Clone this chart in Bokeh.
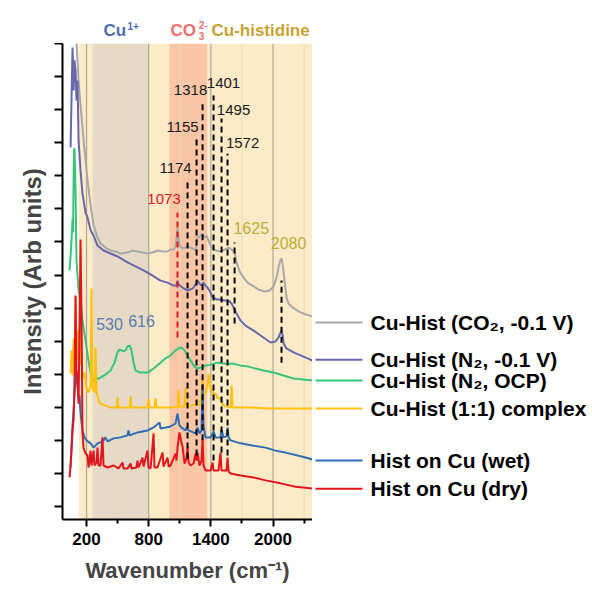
from bokeh.plotting import figure
from bokeh.models import Range1d, FixedTicker, BoxAnnotation
from bokeh.layouts import column, row
from bokeh.core.properties import value
from bokeh.embed import file_html
from bokeh.resources import INLINE

FONT = "Liberation Sans"

# ---------------- data (wavenumber in cm-1, intensity in arb. units) ----------------
gray_x = [103, 123, 142, 161, 181, 210, 239, 268, 306, 335, 383, 432, 480, 528, 596, 644, 692, 741, 789, 837,
          885, 934, 982, 1011, 1040, 1059, 1078, 1097, 1127, 1156, 1185, 1223, 1252, 1271, 1291, 1320, 1339, 1358,
          1378, 1397, 1416, 1455, 1493, 1532, 1571, 1600, 1629, 1648, 1667, 1687, 1725, 1754, 1802, 1860, 1918,
          1967, 2005, 2034, 2053, 2073, 2082, 2092, 2111, 2130, 2150, 2189, 2247, 2314, 2382]
gray_y = [14.1, 12.88, 12.13, 11.46, 10.77, 9.86, 9.10, 8.50, 8.13, 7.95, 7.83, 7.74, 7.71, 7.65, 7.68, 7.74, 7.71,
          7.68, 7.65, 7.68, 7.74, 7.71, 7.71, 7.77, 7.77, 7.86, 8.41, 7.89, 7.80, 7.83, 7.86, 7.80, 7.74, 8.13, 8.16,
          8.26, 8.13, 8.19, 8.04, 7.89, 7.80, 7.74, 7.71, 7.77, 7.83, 7.77, 7.68, 7.38, 7.20, 7.05, 6.89, 6.77, 6.68,
          6.56, 6.50, 6.53, 6.65, 6.92, 7.23, 7.47, 7.50, 7.35, 6.83, 6.32, 6.14, 6.02, 5.90, 5.81, 5.75]

purple_x = [46, 55, 65, 75, 84, 94, 103, 113, 123, 142, 161, 190, 210, 239, 268, 306, 364, 432, 499, 596, 673, 750,
            818, 914, 982, 1040, 1069, 1078, 1088, 1127, 1175, 1223, 1252, 1271, 1291, 1310, 1329, 1349, 1368, 1397,
            1416, 1455, 1493, 1532, 1571, 1600, 1619, 1648, 1687, 1735, 1812, 1880, 1976, 2024, 2053, 2073, 2082,
            2092, 2102, 2130, 2198, 2266, 2333, 2382]
purple_y = [10.86, 12.28, 13.88, 12.58, 13.49, 13.18, 12.28, 12.88, 11.07, 10.16, 9.46, 8.89, 8.74, 8.35, 8.19, 7.89,
            7.74, 7.65, 7.56, 7.38, 7.26, 7.14, 7.02, 6.83, 6.77, 6.68, 6.68, 6.83, 6.71, 6.62, 6.53, 6.59, 6.71, 6.83,
            6.74, 6.68, 6.77, 6.68, 6.62, 6.47, 6.32, 6.26, 6.26, 6.23, 6.23, 6.14, 6.02, 5.84, 5.62, 5.47, 5.32, 5.17,
            4.96, 4.99, 5.11, 5.26, 5.32, 5.20, 4.93, 4.78, 4.66, 4.57, 4.48, 4.41]

green_x = [36, 46, 55, 65, 70, 75, 79, 84, 94, 103, 123, 142, 161, 190, 219, 239, 268, 297, 335, 383, 432, 470, 499,
           519, 538, 557, 576, 596, 615, 634, 654, 673, 721, 789, 847, 914, 963, 1011, 1059, 1088, 1117, 1146, 1175,
           1204, 1242, 1271, 1300, 1349, 1397, 1465, 1542, 1619, 1687, 1764, 1831, 1909, 2005, 2102, 2198, 2295, 2382]
green_y = [7.14, 7.59, 8.04, 8.71, 8.29, 9.86, 10.77, 10.83, 9.56, 7.44, 6.53, 6.23, 5.62, 5.02, 4.41, 4.02, 3.81,
           3.84, 3.90, 3.99, 4.11, 4.35, 4.66, 4.75, 4.72, 4.69, 4.72, 4.84, 4.87, 4.72, 4.35, 4.11, 4.05, 4.05, 4.17,
           4.35, 4.48, 4.57, 4.72, 4.78, 4.81, 4.72, 4.57, 4.41, 4.23, 4.17, 4.20, 4.26, 4.29, 4.35, 4.32, 4.32, 4.26,
           4.23, 4.17, 4.11, 4.05, 3.96, 3.87, 3.84, 3.81]

yellow_x = [46, 55, 65, 75, 84, 94, 103, 113, 123, 132, 142, 152, 161, 181, 200, 219, 239, 248, 258, 277, 287, 297,
            316, 335, 383, 432, 490, 499, 509, 615, 625, 634, 789, 798, 808, 856, 866, 876, 1011, 1078, 1088, 1097,
            1146, 1156, 1165, 1252, 1271, 1291, 1310, 1320, 1329, 1349, 1368, 1378, 1387, 1397, 1416, 1426, 1445,
            1465, 1493, 1522, 1590, 1600, 1609, 1793, 1976, 2169, 2382]
yellow_y = [4.02, 4.72, 3.96, 5.08, 4.41, 6.32, 4.87, 5.32, 4.41, 5.47, 4.26, 4.72, 3.87, 4.05, 3.57, 3.45, 3.66,
            6.59, 3.57, 3.45, 4.81, 3.45, 3.21, 3.11, 3.05, 2.99, 2.99, 3.30, 2.99, 2.99, 3.33, 2.99, 2.99, 3.27, 2.99,
            2.99, 3.27, 2.99, 2.99, 3.02, 3.51, 3.02, 3.02, 3.60, 3.02, 3.08, 3.20, 3.05, 3.30, 3.90, 3.36, 3.45, 3.66,
            4.02, 3.81, 3.51, 3.57, 3.36, 3.42, 3.27, 3.27, 3.05, 2.99, 3.66, 2.99, 2.99, 2.96, 2.96, 2.96]

blue_x = [46, 55, 65, 75, 84, 94, 103, 113, 123, 132, 142, 152, 161, 181, 200, 239, 268, 306, 335, 364, 383, 403,
          461, 528, 596, 605, 615, 692, 789, 847, 905, 914, 963, 1011, 1059, 1078, 1097, 1127, 1156, 1165, 1185,
          1252, 1271, 1291, 1310, 1320, 1329, 1349, 1397, 1426, 1445, 1493, 1503, 1522, 1551, 1561, 1571, 1590,
          1687, 1812, 1928, 2024, 2121, 2237, 2314, 2382]
blue_y = [1.18, 1.84, 2.45, 2.90, 3.36, 3.87, 4.11, 3.66, 3.21, 3.36, 2.84, 2.54, 2.30, 2.09, 2.00, 1.91, 1.78,
          1.91, 1.94, 2.00, 2.09, 1.97, 2.06, 2.09, 2.15, 2.30, 2.15, 2.24, 2.30, 2.39, 2.54, 2.36, 2.39, 2.42, 2.51,
          2.81, 2.45, 2.36, 2.30, 2.39, 2.30, 2.21, 2.39, 2.21, 2.30, 3.66, 2.45, 2.09, 2.09, 2.27, 2.09, 2.09, 2.33,
          2.09, 2.12, 2.39, 2.09, 2.00, 1.91, 1.84, 1.78, 1.69, 1.63, 1.54, 1.48, 1.42]

red_x = [36, 46, 55, 65, 75, 84, 94, 103, 113, 123, 132, 142, 152, 161, 171, 190, 210, 219, 229, 239, 248, 268, 277,
         297, 306, 316, 335, 354, 364, 403, 461, 509, 548, 557, 596, 625, 634, 682, 692, 702, 741, 750, 789, 798,
         818, 847, 856, 885, 934, 943, 982, 992, 1011, 1059, 1069, 1078, 1097, 1117, 1127, 1146, 1165, 1175, 1185,
         1204, 1233, 1252, 1262, 1271, 1291, 1310, 1320, 1329, 1349, 1397, 1416, 1426, 1474, 1493, 1503, 1551,
         1561, 1571, 1590, 1687, 1812, 1928, 2073, 2218, 2382]
red_y = [0.88, 1.24, 1.69, 2.30, 2.60, 3.81, 6.38, 4.11, 3.90, 3.11, 5.32, 8.07, 5.62, 2.21, 1.78, 1.60, 1.54, 1.18,
         1.39, 1.69, 1.24, 1.69, 1.24, 1.33, 1.78, 1.24, 1.24, 2.09, 1.24, 1.18, 1.24, 1.15, 1.33, 1.15, 1.15, 1.30,
         1.15, 1.18, 1.39, 1.18, 1.48, 1.21, 1.69, 1.18, 1.15, 2.21, 1.18, 1.18, 1.63, 1.21, 1.48, 1.21, 1.24, 1.60,
         1.39, 1.78, 2.24, 1.91, 1.81, 1.30, 1.45, 1.78, 1.33, 1.24, 1.30, 1.60, 1.39, 1.63, 1.24, 1.39, 2.06, 1.24,
         1.09, 1.09, 1.33, 1.09, 1.09, 1.63, 1.09, 1.09, 1.48, 1.06, 1.00, 0.94, 0.88, 0.79, 0.70, 0.60, 0.54]

series_names = ["Cu-Hist (CO\u2082, -0.1 V)", "Cu-Hist (N\u2082, -0.1 V)", "Cu-Hist (N\u2082, OCP)",
                "Cu-Hist (1:1) complex", "Hist on Cu (wet)", "Hist on Cu (dry)"]
series_colors = ["#A8A8A8", "#6767AC", "#36C477", "#FFC10E", "#2F6CB3", "#E5141C"]
legend_y = [5.56, 4.44, 3.81, 2.96, 1.39, 0.54]

# dashed peak markers
black_dash_x = [1175, 1262, 1320, 1426, 1503, 1561]
black_dash_top = [9.92, 11.16, 12.28, 12.43, 11.73, 10.67]
black_dash_bottom = [1.45, 1.54, 2.00, 1.39, 1.63, 1.54]
olive_dash_x = [1629, 2082]
olive_dash_top = [7.98, 6.83]
olive_dash_bottom = [5.53, 4.35]
red_dash_x = [1078]
red_dash_top = [8.89]
red_dash_bottom = [5.11]

black_labels = ["1174", "1155", "1318", "1401", "1495", "1572"]
black_label_x = [1059, 1127, 1204, 1522, 1619, 1706]
black_label_y = [10.25, 11.49, 12.58, 12.82, 12.00, 10.98]
olive_labels = ["1625", "2080"]
olive_label_x = [1790, 2150]
olive_label_y = [8.41, 7.98]
red_labels = ["1073"]
red_label_x = [948]
red_label_y = [9.31]
blue_labels = ["530", "616"]
blue_label_x = [422, 731]
blue_label_y = [5.53, 5.62]

# shaded regions
band_left = [125, 258, 1000]
band_right = [2381, 800, 1365]
band_colors = ["#FDEBC8", "#E4DAC6", "#FAC6A6"]

x_major_ticks = [200, 800, 1400, 2000]
x_minor_ticks = [500, 1100, 1700, 2300]
y_ticks = list(range(0, 15))

X_LO, X_HI = -32, 2381
Y_LO, Y_HI = -0.393, 14.0

xr = Range1d(X_LO, X_HI)
yr = Range1d(Y_LO, Y_HI)

# ---------------- header strip (region names) ----------------
h = figure(width=312, height=43, output_backend="svg", toolbar_location=None,
           x_range=xr, y_range=Range1d(0, 43),
           min_border_left=62, min_border_right=0, min_border_top=0, min_border_bottom=0)
h.axis.visible = False
h.grid.visible = False
h.outline_line_color = None


def head(x, y, t, color, size):
    h.text(x=[x], y=[y], text=[t], text_color=color, text_font=value(FONT), text_font_size=size,
           text_font_style="bold", text_align="left", text_baseline="alphabetic")


head(364, 13, "Cu", "#4F6DB2", "17px")
head(595, 18, "1+", "#4F6DB2", "10px")
head(1010, 13, "CO", "#F26E6E", "17px")
head(1284, 19, "2-", "#F26E6E", "10px")
head(1284, 8, "3", "#F26E6E", "10px")
head(1406, 13, "Cu-histidine", "#C9A231", "17px")

# ---------------- main plot ----------------
p = figure(width=312, height=547, output_backend="svg", toolbar_location=None,
           x_range=xr, y_range=yr,
           min_border_left=62, min_border_right=0, min_border_top=0, min_border_bottom=71)
p.outline_line_color = None
p.xgrid.visible = False
p.ygrid.visible = False

for l, r, c in zip(band_left, band_right, band_colors):
    p.add_layout(BoxAnnotation(left=l, right=r, bottom=Y_LO, top=Y_HI, fill_color=c, fill_alpha=1.0,
                               line_color=None, level="underlay"))

p.segment(x0=x_minor_ticks, y0=[Y_LO] * 4, x1=x_minor_ticks, y1=[Y_HI] * 4, line_color="#E6D9BC", line_width=1)
p.segment(x0=x_major_ticks, y0=[Y_LO] * 4, x1=x_major_ticks, y1=[Y_HI] * 4, line_color="#ABA699", line_width=1.2)

spectra = [(gray_x, gray_y), (purple_x, purple_y), (green_x, green_y),
           (yellow_x, yellow_y), (blue_x, blue_y), (red_x, red_y)]
for (xs, ys), c in zip(spectra, series_colors):
    p.line(xs, ys, line_color=c, line_width=2)

p.segment(x0=black_dash_x, y0=black_dash_bottom, x1=black_dash_x, y1=black_dash_top,
          line_color="black", line_width=2, line_dash="6 4")
p.segment(x0=olive_dash_x, y0=olive_dash_bottom, x1=olive_dash_x, y1=olive_dash_top,
          line_color="black", line_width=2, line_dash="6 4")
p.segment(x0=red_dash_x, y0=red_dash_bottom, x1=red_dash_x, y1=red_dash_top,
          line_color="#E8141C", line_width=2, line_dash="6 4")


def labels(xs, ys, txt, color, size):
    p.text(x=xs, y=ys, text=txt, text_color=color, text_font=value(FONT), text_font_size=size,
           text_align="center", text_baseline="middle")


labels(black_label_x, black_label_y, black_labels, "#1a1a1a", "15px")
labels(red_label_x, red_label_y, red_labels, "#E8141C", "15px")
labels(olive_label_x, olive_label_y, olive_labels, "#B8AE3A", "16px")
labels(blue_label_x, blue_label_y, blue_labels, "#5A7EAD", "16px")

xa = p.xaxis[0]
xa.ticker = FixedTicker(ticks=x_major_ticks, minor_ticks=x_minor_ticks)
xa.axis_line_width = 2
xa.major_tick_line_width = 2
xa.minor_tick_line_width = 2
xa.major_tick_out = 7
xa.major_tick_in = 0
xa.minor_tick_out = 4
xa.minor_tick_in = 0
xa.major_label_text_font = FONT
xa.major_label_text_font_style = "bold"
xa.major_label_text_font_size = "17px"
xa.major_label_text_color = "black"
xa.major_label_standoff = 6
xa.axis_label = "Wavenumber (cm\u207b\u00b9)"
xa.axis_label_text_font = FONT
xa.axis_label_text_font_style = "bold"
xa.axis_label_text_font_size = "22px"
xa.axis_label_standoff = 10

ya = p.yaxis[0]
ya.ticker = FixedTicker(ticks=y_ticks)
ya.axis_line_width = 2
ya.major_tick_line_width = 2
ya.major_tick_out = 8
ya.major_tick_in = 0
ya.minor_tick_out = 0
ya.minor_tick_in = 0
ya.major_label_text_font_size = "8px"
ya.major_label_text_color = None
ya.major_label_standoff = 0
ya.axis_label = "Intensity (Arb units)"
ya.axis_label_text_font = FONT
ya.axis_label_text_font_style = "bold"
ya.axis_label_text_font_size = "24px"
ya.axis_label_standoff = 9

# ---------------- legend panel (shares the intensity scale) ----------------
lg = figure(width=280, height=547, output_backend="svg", toolbar_location=None,
            x_range=Range1d(0, 280), y_range=yr,
            min_border_left=0, min_border_right=0, min_border_top=0, min_border_bottom=71)
lg.axis.visible = False
lg.grid.visible = False
lg.outline_line_color = None
lg.segment(x0=[3] * 6, y0=legend_y, x1=[50] * 6, y1=legend_y, line_color=series_colors, line_width=2)
lg.text(x=[58] * 6, y=legend_y, text=series_names, text_color="black", text_font=value(FONT),
        text_font_size="21px", text_font_style="bold", text_align="left", text_baseline="middle")

layout = column(h, row(p, lg))
open("out.html", "w").write(file_html(layout, INLINE))
